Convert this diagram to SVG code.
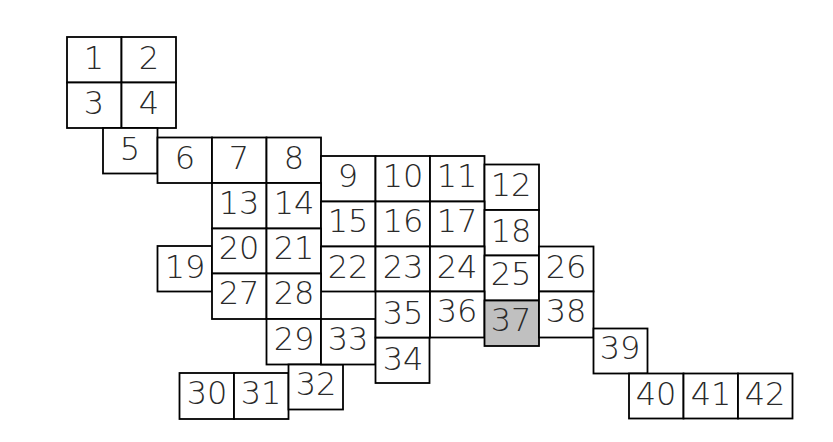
<svg xmlns="http://www.w3.org/2000/svg" width="833" height="442" viewBox="0 0 833 442">
<style>
rect{fill:#fff;stroke:#000;stroke-width:1.8}
rect.hl{fill:#c0c0c0}
text{font-family:"DejaVu Sans","Liberation Sans",sans-serif;font-weight:200;font-size:32px;fill:#2a2a2a;text-anchor:middle;dominant-baseline:central}
</style>
<rect width="833" height="442" style="fill:#fff;stroke:none"/>
<g id="n1"><rect x="67" y="37" width="54.5" height="45.5"/><text x="94" y="58">1</text></g>
<g id="n2"><rect x="121.5" y="37" width="54.5" height="45.5"/><text x="149" y="58">2</text></g>
<g id="n3"><rect x="67" y="82.5" width="54.5" height="45.5"/><text x="94" y="103">3</text></g>
<g id="n4"><rect x="121.5" y="82.5" width="54.5" height="45.5"/><text x="149" y="103">4</text></g>
<g id="n5"><rect x="103" y="128" width="54.5" height="45.5"/><text x="130" y="149">5</text></g>
<g id="n6"><rect x="157.5" y="137.5" width="54.5" height="45.5"/><text x="185" y="158">6</text></g>
<g id="n7"><rect x="212" y="137.5" width="54.5" height="45.5"/><text x="239" y="158">7</text></g>
<g id="n8"><rect x="266.5" y="137.5" width="54.5" height="45.5"/><text x="294" y="158">8</text></g>
<g id="n9"><rect x="321" y="156" width="54.5" height="45.5"/><text x="348" y="176">9</text></g>
<g id="n10"><rect x="375.5" y="156" width="54.5" height="45.5"/><text x="403" y="176">10</text></g>
<g id="n11"><rect x="430" y="156" width="54.5" height="45.5"/><text x="457" y="176">11</text></g>
<g id="n12"><rect x="484.5" y="164.5" width="54.5" height="45.5"/><text x="511" y="185">12</text></g>
<g id="n13"><rect x="212" y="183" width="54.5" height="45.5"/><text x="239" y="203">13</text></g>
<g id="n14"><rect x="266.5" y="183" width="54.5" height="45.5"/><text x="294" y="203">14</text></g>
<g id="n15"><rect x="321" y="201.5" width="54.5" height="45"/><text x="348" y="221">15</text></g>
<g id="n16"><rect x="375.5" y="201.5" width="54.5" height="45"/><text x="403" y="221">16</text></g>
<g id="n17"><rect x="430" y="201.5" width="54.5" height="45"/><text x="457" y="221">17</text></g>
<g id="n18"><rect x="484.5" y="210" width="54.5" height="45.5"/><text x="511" y="231">18</text></g>
<g id="n19"><rect x="157.5" y="246" width="54.5" height="45.5"/><text x="185" y="267">19</text></g>
<g id="n20"><rect x="212" y="228.5" width="54.5" height="45"/><text x="239" y="248">20</text></g>
<g id="n21"><rect x="266.5" y="228.5" width="54.5" height="45"/><text x="294" y="248">21</text></g>
<g id="n22"><rect x="321" y="246.5" width="54.5" height="45"/><text x="348" y="267">22</text></g>
<g id="n23"><rect x="375.5" y="246.5" width="54.5" height="45"/><text x="403" y="267">23</text></g>
<g id="n24"><rect x="430" y="246.5" width="54.5" height="45"/><text x="457" y="267">24</text></g>
<g id="n25"><rect x="484.5" y="255.5" width="54.5" height="45"/><text x="511" y="274">25</text></g>
<g id="n26"><rect x="539" y="246.5" width="54.5" height="45"/><text x="566" y="267">26</text></g>
<g id="n27"><rect x="212" y="273.5" width="54.5" height="45.5"/><text x="239" y="293">27</text></g>
<g id="n28"><rect x="266.5" y="273.5" width="54.5" height="45.5"/><text x="294" y="293">28</text></g>
<g id="n29"><rect x="266.5" y="319" width="54.5" height="45.5"/><text x="294" y="339">29</text></g>
<g id="n30"><rect x="179.5" y="373" width="54.5" height="46"/><text x="207" y="393">30</text></g>
<g id="n31"><rect x="234" y="373" width="54.5" height="46"/><text x="261" y="393">31</text></g>
<g id="n32"><rect x="288.5" y="364.5" width="54.5" height="45"/><text x="316" y="384">32</text></g>
<g id="n33"><rect x="321" y="319" width="54.5" height="45.5"/><text x="348" y="339">33</text></g>
<g id="n34"><rect x="375.5" y="337.5" width="54" height="45.5"/><text x="403" y="359">34</text></g>
<g id="n35"><rect x="375.5" y="291.5" width="54.5" height="46"/><text x="403" y="313">35</text></g>
<g id="n36"><rect x="430" y="291.5" width="54.5" height="46"/><text x="457" y="311">36</text></g>
<g id="n37"><rect class="hl" x="484.5" y="300.5" width="54.5" height="45.5"/><text x="511" y="320">37</text></g>
<g id="n38"><rect x="539" y="291.5" width="54.5" height="46"/><text x="566" y="311">38</text></g>
<g id="n39"><rect x="593.5" y="328.5" width="54" height="45"/><text x="620" y="348">39</text></g>
<g id="n40"><rect x="629" y="373.5" width="54.5" height="45"/><text x="656" y="394">40</text></g>
<g id="n41"><rect x="683.5" y="373.5" width="54.5" height="45"/><text x="711" y="394">41</text></g>
<g id="n42"><rect x="738" y="373.5" width="54.5" height="45"/><text x="765" y="394">42</text></g>
<g id="connectors"></g>
</svg>
